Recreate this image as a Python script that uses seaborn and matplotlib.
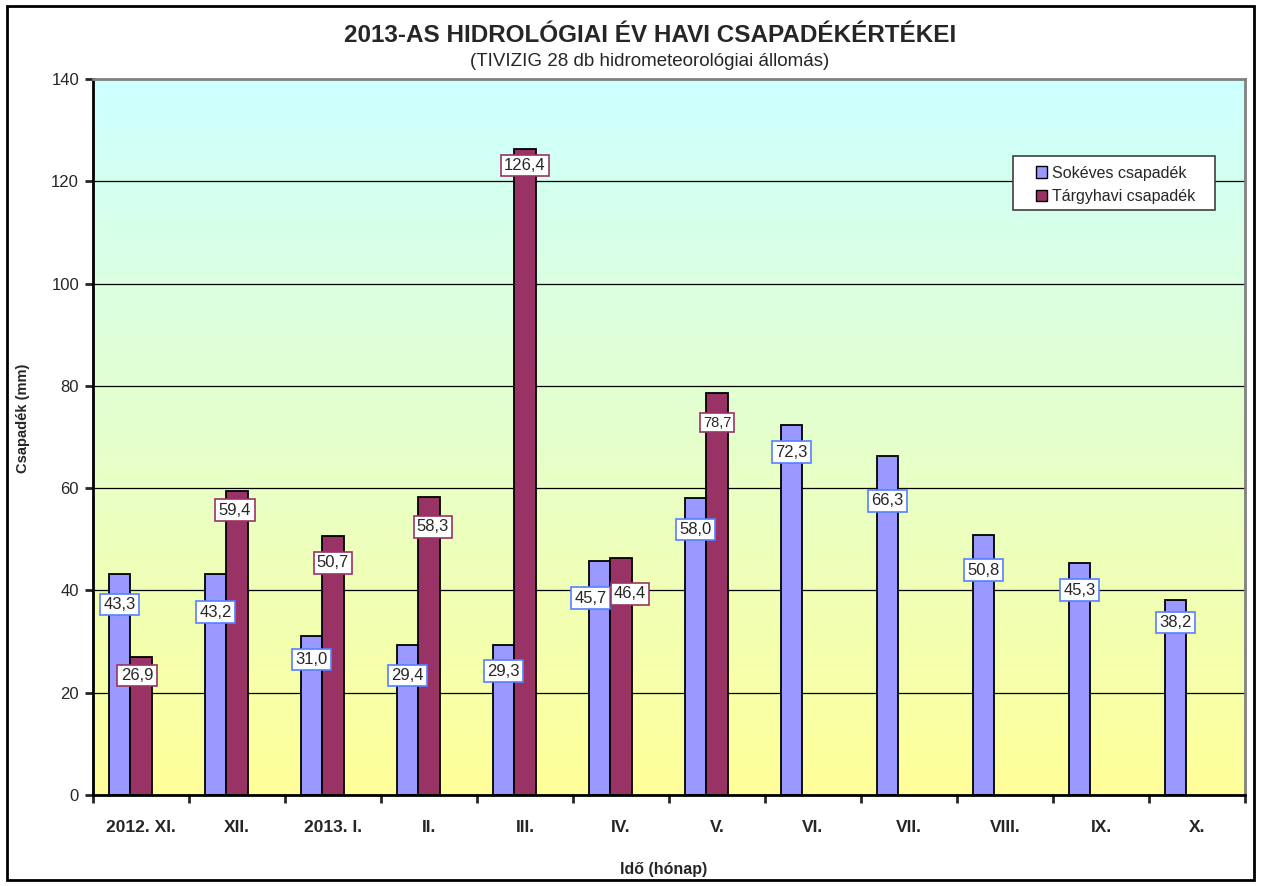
import numpy as np
import pandas as pd
import matplotlib
matplotlib.use("Agg")
import matplotlib.pyplot as plt
import seaborn as sns
from matplotlib.patches import Patch, Rectangle

# ---- data ----
months = ["2012. XI.", "XII.", "2013. I.", "II.", "III.", "IV.", "V.",
          "VI.", "VII.", "VIII.", "IX.", "X."]
sokeves = [43.3, 43.2, 31.0, 29.4, 29.3, 45.7, 58.0, 72.3, 66.3, 50.8, 45.3, 38.2]
targyhavi = [26.9, 59.4, 50.7, 58.3, 126.4, 46.4, 78.7,
             np.nan, np.nan, np.nan, np.nan, np.nan]
series_names = ["Sokéves csapadék", "Tárgyhavi csapadék"]
y_ticks = [0, 20, 40, 60, 80, 100, 120, 140]

# label offsets in pixels (layout only)
sok_off_y = [31, 38, 23, 31, 26, 37, 31, 27, 45, 35, 27, 23]
sok_off_x = [0, 0, 0, 0, 0, -9, 0, 0, 0, 0, 0, 0]
targ_off_y = [18, 19, 27, 30, 17, 36, 30]
targ_off_x = [-4, -2, 0, 4, 0, 9, 0]

colors = ["#9999FF", "#993366"]
label_edges = ["#5580FF", "#993366"]

df = pd.DataFrame({
    "month": months * 3,
    "series": [series_names[0]] * 12 + [series_names[1]] * 12 + ["_empty"] * 12,
    "value": list(sokeves) + list(targyhavi) + [np.nan] * 12,
})

sns.set_style("white")
plt.rcParams["font.family"] = ["Liberation Sans", "DejaVu Sans"]

W, H = 1261, 886
fig = plt.figure(figsize=(W / 100, H / 100), dpi=100)
ax = fig.add_axes([93 / W, 91 / H, 1152 / W, 716 / H])

sns.barplot(data=df, x="month", y="value", hue="series", order=months,
            hue_order=series_names + ["_empty"],
            palette=colors + ["#ffffff"], width=0.672, gap=0,
            edgecolor="black", linewidth=1.3, saturation=1,
            errorbar=None, legend=False, ax=ax)

# gradient background
grad = np.linspace(0, 1, 256).reshape(-1, 1)
c_bot = np.array([255, 255, 153]) / 255
c_top = np.array([204, 255, 255]) / 255
img = c_bot[None, None, :] * (1 - grad[:, :, None]) + c_top[None, None, :] * grad[:, :, None]
ax.imshow(img, extent=[-0.5, 11.5, 0, 140], aspect="auto", origin="lower", zorder=0)

ax.set_xlim(-0.5, 11.5)
ax.set_ylim(0, 140)
ax.set_yticks(y_ticks)
ax.set_yticklabels([str(t) for t in y_ticks], fontsize=12)
ax.yaxis.grid(True, color="black", linewidth=0.9)
ax.set_axisbelow(True)
ax.tick_params(axis="y", direction="out", length=6, width=2, left=True, pad=4)

ax.set_xticks(range(len(months)))
ax.set_xticklabels(months, fontsize=12.5, fontweight="bold")
ax.set_xticks(np.arange(-0.5, 12, 1), minor=True)
ax.tick_params(axis="x", which="major", length=0, pad=18)
ax.tick_params(axis="x", which="minor", direction="out", length=6, width=2, bottom=True)

for side in ["left", "bottom"]:
    ax.spines[side].set_color("black")
    ax.spines[side].set_linewidth(2)
for side in ["top", "right"]:
    ax.spines[side].set_visible(True)
    ax.spines[side].set_color("#808080")
    ax.spines[side].set_linewidth(2)

ax.set_xlabel("Idő (hónap)", fontsize=11.5, fontweight="bold")
ax.xaxis.set_label_coords((664 - 93) / 1152, (795 - 862) / 716)
ax.set_ylabel("Csapadék (mm)", fontsize=10.5, fontweight="bold")
ax.yaxis.set_label_coords((30 - 93) / 1152, (795 - 418) / 716)

# data labels
w = 0.224
def fmt(v):
    return f"{v:.1f}".replace(".", ",")

for i, v in enumerate(sokeves):
    ax.annotate(fmt(v), xy=(i - w, v), xytext=(sok_off_x[i], -sok_off_y[i]),
                textcoords="offset pixels", ha="center", va="center",
                fontsize=12, zorder=5,
                bbox=dict(boxstyle="square,pad=0.2", fc="white",
                          ec=label_edges[0], lw=1.2))
for i, v in enumerate(targyhavi):
    if np.isnan(v):
        continue
    ax.annotate(fmt(v), xy=(i, v), xytext=(targ_off_x[i], -targ_off_y[i]),
                textcoords="offset pixels", ha="center", va="center",
                fontsize=10.5 if i == 6 else 12, zorder=5,
                bbox=dict(boxstyle="square,pad=0.2", fc="white",
                          ec=label_edges[1], lw=1.2))

# legend with custom frame
ax.add_patch(Rectangle((1013 / W, 1 - 210 / H), 202 / W, 54 / H,
                       transform=fig.transFigure, facecolor="white",
                       edgecolor="#404040", linewidth=1.2, clip_on=False,
                       zorder=4))
handles = [Patch(facecolor=c, edgecolor="black", linewidth=1) for c in colors]
leg = ax.legend(handles, series_names, loc="center left",
                bbox_to_anchor=(1036 / W, 1 - 185 / H),
                bbox_transform=fig.transFigure,
                fontsize=11.5, frameon=False, handlelength=0.7,
                handleheight=0.7, handletextpad=0.3, borderpad=0,
                labelspacing=0.55, borderaxespad=0)
leg.set_zorder(6)

fig.text(650 / W, 1 - 36 / H, "2013-AS HIDROLÓGIAI ÉV HAVI CSAPADÉKÉRTÉKEI",
         ha="center", va="center", fontsize=17.5, fontweight="bold")
fig.text(650 / W, 1 - 62 / H, "(TIVIZIG 28 db hidrometeorológiai állomás)",
         ha="center", va="center", fontsize=13.5)

fig.patches.append(Rectangle((7 / W, 6 / H), 1247 / W, 874 / H,
                             transform=fig.transFigure, fill=False,
                             edgecolor="black", linewidth=2))

fig.savefig("out.png", dpi=100)
